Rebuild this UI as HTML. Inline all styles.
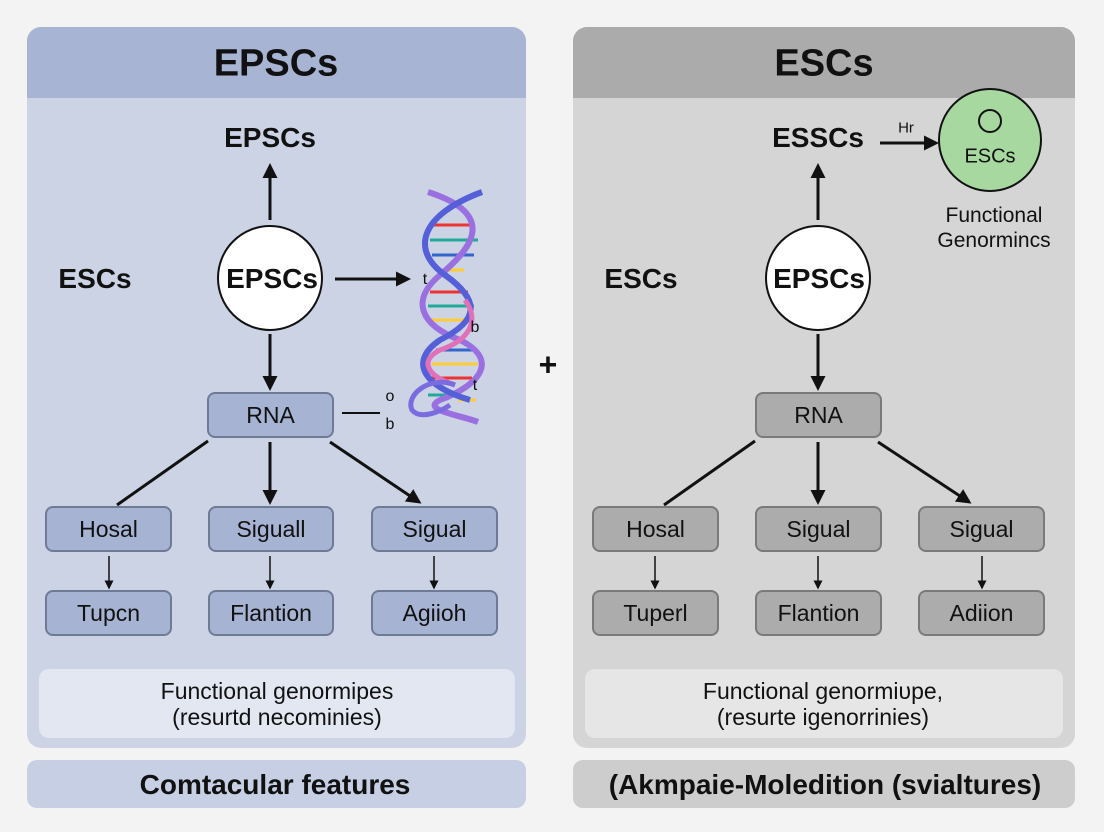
<!DOCTYPE html>
<html><head><meta charset="utf-8"><style>
*{margin:0;padding:0;box-sizing:border-box}
body{width:1104px;height:832px;background:#f3f3f3;position:relative;overflow:hidden;font-family:"Liberation Sans",sans-serif;color:#111}
.a{position:absolute}
.t{position:absolute;text-align:center;white-space:nowrap;transform:translate(-50%,-50%)}
.box{position:absolute;border-radius:8px;border:2px solid;display:flex;align-items:center;justify-content:center;font-size:23px}
.L .box{background:#a6b3d3;border-color:#6f7a95}
.R .box{background:#acacac;border-color:#7a7a7a}
</style></head><body>
<div class="a" style="left:27px;top:27px;width:499px;height:721px;border-radius:14px;background:#cbd3e5;overflow:hidden">
 <div class="a" style="left:0;top:0;width:499px;height:71px;background:#a7b4d4"></div>
</div>
<div class="a" style="left:573px;top:27px;width:502px;height:721px;border-radius:14px;background:#d5d5d5;overflow:hidden">
 <div class="a" style="left:0;top:0;width:502px;height:71px;background:#ababab"></div>
</div>
<div class="a" style="left:27px;top:760px;width:499px;height:48px;border-radius:10px;background:#c6cfe4"></div>
<div class="a" style="left:573px;top:760px;width:502px;height:48px;border-radius:10px;background:#cdcdcd"></div>
<div class="a" style="left:39px;top:669px;width:476px;height:69px;border-radius:10px;background:#e3e7f1"></div>
<div class="a" style="left:585px;top:669px;width:478px;height:69px;border-radius:10px;background:#e6e6e6"></div>

<svg class="a" style="left:0;top:0" width="1104" height="832">
<defs><marker id="ah" markerWidth="5" markerHeight="5" refX="4" refY="2.5" orient="auto" markerUnits="strokeWidth"><path d="M0,0 L5,2.5 L0,5z" fill="#111"/></marker>
<marker id="as" markerWidth="6" markerHeight="6" refX="5" refY="3" orient="auto" markerUnits="strokeWidth"><path d="M0,0 L6,3 L0,6z" fill="#111"/></marker></defs>
<g stroke="#111" stroke-width="3" fill="none">
 <line x1="270" y1="220" x2="270" y2="166" marker-end="url(#ah)"/>
 <line x1="270" y1="334" x2="270" y2="388" marker-end="url(#ah)"/>
 <line x1="335" y1="279" x2="408" y2="279" marker-end="url(#ah)"/>
 <line x1="208" y1="441" x2="117" y2="505"/>
 <line x1="270" y1="442" x2="270" y2="502" marker-end="url(#ah)"/>
 <line x1="330" y1="442" x2="419" y2="502" marker-end="url(#ah)"/>
 <line x1="342" y1="413" x2="380" y2="413" stroke-width="2"/>
 <line x1="818" y1="220" x2="818" y2="166" marker-end="url(#ah)"/>
 <line x1="818" y1="334" x2="818" y2="388" marker-end="url(#ah)"/>
 <line x1="880" y1="143" x2="936" y2="143" marker-end="url(#ah)"/>
 <line x1="755" y1="441" x2="664" y2="505"/>
 <line x1="818" y1="442" x2="818" y2="502" marker-end="url(#ah)"/>
 <line x1="878" y1="442" x2="969" y2="502" marker-end="url(#ah)"/>
</g>
<g stroke="#111" stroke-width="1.5">
 <line x1="109" y1="556" x2="109" y2="588" marker-end="url(#as)"/>
 <line x1="270" y1="556" x2="270" y2="588" marker-end="url(#as)"/>
 <line x1="434" y1="556" x2="434" y2="588" marker-end="url(#as)"/>
 <line x1="655" y1="556" x2="655" y2="588" marker-end="url(#as)"/>
 <line x1="818" y1="556" x2="818" y2="588" marker-end="url(#as)"/>
 <line x1="982" y1="556" x2="982" y2="588" marker-end="url(#as)"/>
</g>
<circle cx="270" cy="278" r="52" fill="#fff" stroke="#111" stroke-width="2"/>
<circle cx="818" cy="278" r="52" fill="#fff" stroke="#111" stroke-width="2"/>
<circle cx="990" cy="140" r="51" fill="#a6d8a0" stroke="#111" stroke-width="2"/>
<circle cx="990" cy="121" r="11" fill="none" stroke="#111" stroke-width="2"/>
<g stroke-width="3">
 <line x1="432" y1="225" x2="472" y2="225" stroke="#e33"/>
 <line x1="430" y1="240" x2="478" y2="240" stroke="#2a9"/>
 <line x1="432" y1="255" x2="474" y2="255" stroke="#36c"/>
 <line x1="440" y1="270" x2="464" y2="270" stroke="#fc3"/>
 <line x1="430" y1="292" x2="468" y2="292" stroke="#e33"/>
 <line x1="428" y1="306" x2="474" y2="306" stroke="#2a9"/>
 <line x1="432" y1="320" x2="470" y2="320" stroke="#fc3"/>
 <line x1="436" y1="350" x2="474" y2="350" stroke="#36c"/>
 <line x1="432" y1="364" x2="478" y2="364" stroke="#fc3"/>
 <line x1="432" y1="378" x2="472" y2="378" stroke="#e33"/>
 <line x1="428" y1="395" x2="446" y2="395" stroke="#2a9"/>
 <line x1="458" y1="400" x2="476" y2="400" stroke="#fc3"/>
</g>
<path d="M428,192 C500,215 470,250 440,275 C410,300 420,325 460,340 C500,360 480,385 440,400 C420,410 460,415 478,422" fill="none" stroke="#9a6fe0" stroke-width="6"/>
<path d="M482,192 C420,215 410,250 445,275 C480,300 480,320 440,340 C410,360 420,385 470,400" fill="none" stroke="#5560d8" stroke-width="6"/>
<path d="M465,300 C480,320 470,340 440,350 C420,360 425,375 455,385" fill="none" stroke="#e070b8" stroke-width="5"/>
<path d="M455,385 C430,375 405,395 412,410 C420,420 440,412 450,405" fill="none" stroke="#7a6be0" stroke-width="5"/>
</svg>

<div class="t" style="left:276px;top:64px;font-size:38px;font-weight:bold">EPSCs</div>
<div class="t" style="left:824px;top:64px;font-size:38px;font-weight:bold">ESCs</div>
<div class="t" style="left:270px;top:138px;font-size:28px;font-weight:bold">EPSCs</div>
<div class="t" style="left:818px;top:138px;font-size:28px;font-weight:bold">ESSCs</div>
<div class="t" style="left:95px;top:279px;font-size:28px;font-weight:bold">ESCs</div>
<div class="t" style="left:641px;top:279px;font-size:28px;font-weight:bold">ESCs</div>
<div class="t" style="left:272px;top:279px;font-size:28px;font-weight:bold">EPSCs</div>
<div class="t" style="left:819px;top:279px;font-size:28px;font-weight:bold">EPSCs</div>
<div class="t" style="left:906px;top:128px;font-size:15px">Hr</div>
<div class="t" style="left:990px;top:157px;font-size:20px">ESCs</div>
<div class="t" style="left:994px;top:228px;font-size:21px;line-height:25px">Functional<br>Genormincs</div>
<div class="t" style="left:425px;top:280px;font-size:16px">t</div>
<div class="t" style="left:475px;top:328px;font-size:16px">b</div>
<div class="t" style="left:475px;top:386px;font-size:16px">t</div>
<div class="t" style="left:390px;top:397px;font-size:16px">o</div>
<div class="t" style="left:390px;top:425px;font-size:16px">b</div>
<div class="t" style="left:548px;top:365px;font-size:32px;font-weight:bold">+</div>

<div class="L">
 <div class="box" style="left:207px;top:392px;width:127px;height:46px">RNA</div>
 <div class="box" style="left:45px;top:506px;width:127px;height:46px">Hosal</div>
 <div class="box" style="left:208px;top:506px;width:126px;height:46px">Siguall</div>
 <div class="box" style="left:371px;top:506px;width:127px;height:46px">Sigual</div>
 <div class="box" style="left:45px;top:590px;width:127px;height:46px">Tupcn</div>
 <div class="box" style="left:208px;top:590px;width:126px;height:46px">Flantion</div>
 <div class="box" style="left:371px;top:590px;width:127px;height:46px">Agiioh</div>
</div>
<div class="R">
 <div class="box" style="left:755px;top:392px;width:127px;height:46px">RNA</div>
 <div class="box" style="left:592px;top:506px;width:127px;height:46px">Hosal</div>
 <div class="box" style="left:755px;top:506px;width:127px;height:46px">Sigual</div>
 <div class="box" style="left:918px;top:506px;width:127px;height:46px">Sigual</div>
 <div class="box" style="left:592px;top:590px;width:127px;height:46px">Tuperl</div>
 <div class="box" style="left:755px;top:590px;width:127px;height:46px">Flantion</div>
 <div class="box" style="left:918px;top:590px;width:127px;height:46px">Adiion</div>
</div>
<div class="t" style="left:277px;top:704px;font-size:23px;line-height:26px">Functional genormipes<br>(resurtd necominies)</div>
<div class="t" style="left:823px;top:704px;font-size:23px;line-height:26px">Functional genormiυpe,<br>(resurte igenorrinies)</div>
<div class="t" style="left:275px;top:785px;font-size:28px;font-weight:bold">Comtacular features</div>
<div class="t" style="left:825px;top:785px;font-size:28px;font-weight:bold">(Akmpaie-Moledition (svialtures)</div>
</body></html>
